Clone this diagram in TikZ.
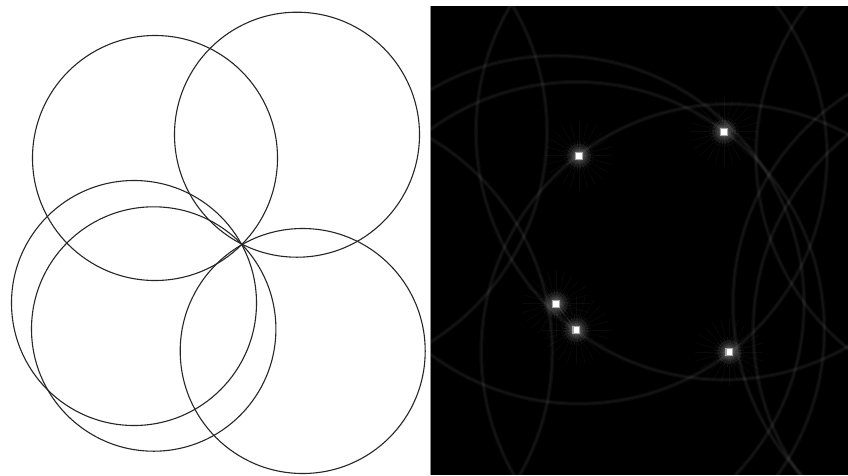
\documentclass[tikz,border=0pt]{standalone}
\usetikzlibrary{calc}
\begin{document}
\begin{tikzpicture}[x=1pt,y=-1pt,
  edgecircle/.style={draw=black!85, line width=1.1pt},
  ringwide/.style={draw=white, draw opacity=0.045, line width=4pt},
  ringcore/.style={draw=white, draw opacity=0.04, line width=1.5pt},
  glow/.style={fill=white, fill opacity=0.07},
  ray/.style={draw=white, draw opacity=0.04, line width=0.6pt},
  rayin/.style={draw=white, draw opacity=0.07, line width=0.8pt}]
\useasboundingbox (0,0) rectangle (848,475);
\fill[white] (0,0) rectangle (848,475);
% ---- left panel: five circles through one point
\coordinate (common) at (241.5,244.5);
\draw[edgecircle] (155,158) circle[radius=122.5pt];
\draw[edgecircle] (297,134.7) circle[radius=122.5pt];
\draw[edgecircle] (134,303) circle[radius=122.5pt];
\draw[edgecircle] (153.7,329) circle[radius=122.2pt];
\draw[edgecircle] (302.7,351) circle[radius=122.5pt];
% ---- right panel: accumulator
\fill[black] (431,6) rectangle (848,475);
\draw[black!45, line width=0.8pt] (430.6,6) -- (430.6,475);
\begin{scope}
\clip (431,6) rectangle (848,475);
\foreach \px/\py in {579/155.7, 724/131.7, 556/303.7, 576.3/330, 729.3/352} {
  \foreach \i in {-1,0,1} {
      \draw[ringwide] ({\px+\i*425},\py) circle[radius=248pt];
      \draw[ringcore] ({\px+\i*425},\py) circle[radius=248pt];
  }
}
\draw[white, draw opacity=0.08, line width=1.5pt] (556,303.7) -- (576.3,330);
\foreach \px/\py/\n in {579/155.7/pa, 724/131.7/pb, 556/303.7/pc, 576.3/330/pd, 729.3/352/pe} {
  \coordinate (\n) at (\px,\py);
  \foreach \rr in {12,9,7,5.5} \fill[glow] (\n) circle[radius=\rr pt];
  \foreach \a in {0,15,...,345} {
    \draw[ray] (\n) -- ++(\a:34pt);
    \draw[rayin] (\n) -- ++(\a+7.5:15pt);
  }
  \fill[white!65!black] ($(\n)+(-4,-4)$) rectangle ($(\n)+(4,4)$);
  \fill[white] ($(\n)+(-2.8,-2.8)$) rectangle ($(\n)+(2.8,2.8)$);
}
\end{scope}
\end{tikzpicture}
\end{document}
